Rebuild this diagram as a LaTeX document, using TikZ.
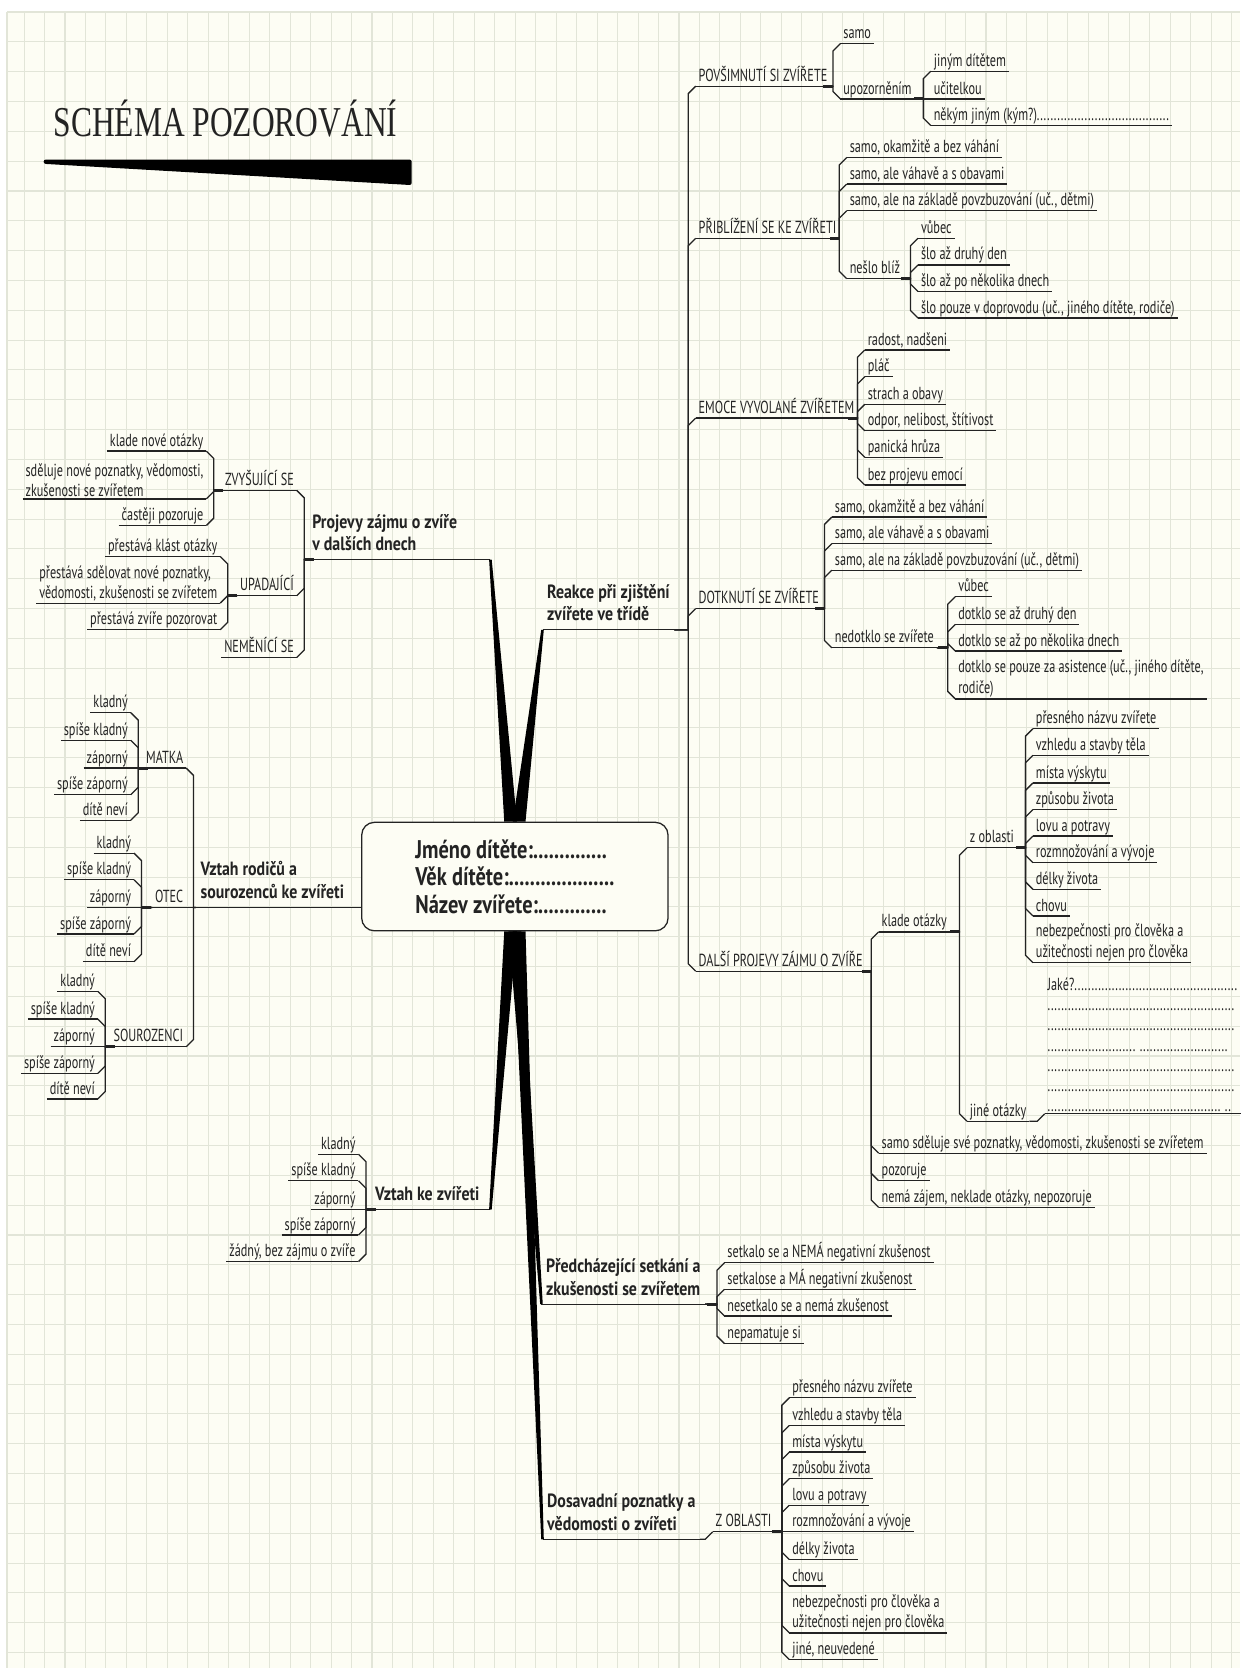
\documentclass[tikz,border=0pt]{standalone}
\usepackage{fontspec}
\setmainfont{PT Sans}
\newfontfamily\leaffamily[FakeStretch=0.70]{PT Sans}
\newfontfamily\headfamily[FakeStretch=0.83]{PT Sans}
\newfontfamily\hubfamily[FakeStretch=0.80]{PT Sans}
\newfontfamily\titlefamily[FakeStretch=0.74]{Liberation Serif}
\usetikzlibrary{calc}

\definecolor{paper}{RGB}{253,253,244}
\definecolor{gridline}{RGB}{226,229,216}
\definecolor{ink}{RGB}{35,35,35}

\newcommand{\lfont}{\leaffamily\fontsize{8.2pt}{9.5pt}\selectfont}
\newcommand{\hfont}{\headfamily\bfseries\fontsize{9pt}{10.5pt}\selectfont}
\newcommand{\cfont}{\hubfamily\bfseries\fontsize{12pt}{13pt}\selectfont}
\newcommand{\tfont}{\titlefamily\fontsize{20pt}{22pt}\selectfont}

\tikzset{
  uline/.style={draw=ink, line width=0.6pt},
  link/.style={draw=ink, line width=0.6pt},
  knot/.style={draw=ink, line width=1.4pt},
  wedge/.style={fill=black},
  leaf/.style={font=\lfont, text=ink, inner xsep=1.2pt, inner ysep=0.7pt, text depth=1.4pt,
    append after command={(\tikzlastnode.south west) edge[uline] (\tikzlastnode.south east)}},
  leafii/.style={font=\lfont, text=ink, align=left, inner xsep=1.2pt, inner ysep=0.7pt,
    append after command={(\tikzlastnode.south west) edge[uline] (\tikzlastnode.south east)}},
  rleaf/.style={leaf, anchor=south west},
  lleaf/.style={leaf, anchor=south east},
  rleafii/.style={leafii, anchor=south west},
  lleafii/.style={leafii, anchor=south east},
  branch/.style={font=\hfont, text=ink, align=flush left, inner xsep=2pt, inner ysep=4pt,
    append after command={(\tikzlastnode.south west) edge[uline] (\tikzlastnode.south east)}},
  hub/.style={draw=ink, line width=0.6pt, rounded corners=6pt, fill=paper, align=left,
    font=\cfont, text=ink, minimum width=144pt, minimum height=51pt},
}

% elbow from a parent on the right-hand side to one of its children
\newcommand{\linkR}[2]{%
  \draw[link] let \p1=(#1.south east), \p2=(#2.south west),
    \n1={abs(\y2-\y1)<0.5 ? 0 : sign(\y2-\y1)} in
    (\p1) -| ({\x2-3.5pt},{\y2-(\n1*3.5pt)}) -- (\p2);}
% the same on the left-hand side
\newcommand{\linkL}[2]{%
  \draw[link] let \p1=(#1.south west), \p2=(#2.south east),
    \n1={abs(\y2-\y1)<0.5 ? 0 : sign(\y2-\y1)} in
    (\p1) -| ({\x2+3.5pt},{\y2-(\n1*3.5pt)}) -- (\p2);}
% short heavy mark at a junction
\newcommand{\knotR}[2]{%
  \draw[knot] let \p1=(#1.south east), \p2=(#2.south west) in
    ({\x2-3.5pt},\y1) -- ({\x2-8pt},\y1);}
\newcommand{\knotL}[2]{%
  \draw[knot] let \p1=(#1.south west), \p2=(#2.south east) in
    ({\x2+3.5pt},\y1) -- ({\x2+8pt},\y1);}

\begin{document}
\begin{tikzpicture}[x=0.5pt, y=-0.5pt]
  \useasboundingbox (0,0) rectangle (1166,1568);

  % paper
  \fill[paper] (6.6,11.3) rectangle (1166,1568);
  \foreach \i in {0,...,59}
    \draw[gridline, line width=0.5pt] ({22.6+19.24*\i},11.3) -- ({22.6+19.24*\i},1568);
  \foreach \j in {0,...,55}
    \draw[gridline, line width=0.5pt] (6.6,{11.3+28.04*\j}) -- (1166,{11.3+28.04*\j});
  \draw[gridline, line width=0.5pt] (6.6,11.3) -- (6.6,1568);

  % title
  \node[font=\tfont, text=ink, anchor=base west, inner sep=0pt] (title) at (50,128) {SCHÉMA POZOROVÁNÍ};
  \fill[black, rounded corners=1pt] (41,150) -- (387,150) -- (387,174) -- (41,154) -- cycle;

  % centre
  \node[hub] (ctr) at (484,824) {Jméno dítěte:..............\\Věk dítěte:....................\\Název zvířete:.............};

  % main branches
  \node[branch, anchor=south west] (rea) at (510,592) {Reakce při zjištění\\zvířete ve třídě};
  \node[branch, anchor=south east, text width=81.5pt] (prj) at (461,526) {Projevy zájmu o zvíře\\v dalších dnech};
  \node[branch, anchor=south east, text width=72pt] (vr) at (337,853) {Vztah rodičů a\\sourozenců ke zvířeti};
  \node[branch, anchor=south east, text width=52pt] (vk) at (461,1137) {Vztah ke zvířeti};
  \node[branch, anchor=south west] (pre) at (509,1226) {Předcházející setkání a\\zkušenosti se zvířetem};
  \node[branch, anchor=south west] (dos) at (510,1447) {Dosavadní poznatky a\\vědomosti o zvířeti};

  \fill[wedge] ([xshift=-5pt]ctr.north) -- ([xshift=-0.6pt]prj.south east) -- ([xshift=0.6pt]prj.south east) -- ([xshift=1pt]ctr.north) -- cycle;
  \fill[wedge] ([xshift=-1pt]ctr.north) -- ([xshift=-0.6pt]rea.south west) -- ([xshift=0.6pt]rea.south west) -- ([xshift=5pt]ctr.north) -- cycle;
  \fill[wedge] ([xshift=-5pt]ctr.south) -- ([xshift=-0.6pt]vk.south east) -- ([xshift=0.6pt]vk.south east) -- ([xshift=1pt]ctr.south) -- cycle;
  \fill[wedge] ([xshift=-3pt]ctr.south) -- ([xshift=-0.6pt]pre.south west) -- ([xshift=0.6pt]pre.south west) -- ([xshift=3pt]ctr.south) -- cycle;
  \fill[wedge] ([xshift=-1pt]ctr.south) -- ([xshift=-0.6pt]dos.south west) -- ([xshift=0.6pt]dos.south west) -- ([xshift=5pt]ctr.south) -- cycle;
  \draw[link] (vr.south east) -- (vr.south east -| ctr.west);

  % Reakce -- povsimnuti
  \node[rleaf] (pov) at (654,81) {POVŠIMNUTÍ SI ZVÍŘETE};
  \node[rleaf] (povA) at (790,41) {samo};
  \node[rleaf] (povB) at (790,93) {upozorněním};
  \node[rleaf] (upoA) at (875,67) {jiným dítětem};
  \node[rleaf] (upoB) at (875,93) {učitelkou};
  \node[rleaf] (upoC) at (875,118) {někým jiným (kým?).......................................};

  % Reakce -- priblizeni
  \node[rleaf] (pri) at (654,224) {PŘIBLÍŽENÍ SE KE ZVÍŘETI};
  \node[rleaf] (priA) at (796,148) {samo, okamžitě a bez váhání};
  \node[rleaf] (priB) at (796,173) {samo, ale váhavě a s obavami};
  \node[rleaf] (priC) at (796,198) {samo, ale na základě povzbuzování (uč., dětmi)};
  \node[rleaf] (priD) at (796,262) {nešlo blíž};
  \node[rleaf] (nesA) at (863,224) {vůbec};
  \node[rleaf] (nesB) at (863,249) {šlo až druhý den};
  \node[rleaf] (nesC) at (863,274) {šlo až po několika dnech};
  \node[rleaf] (nesD) at (863,299) {šlo pouze v doprovodu (uč., jiného dítěte, rodiče)};

  % Reakce -- emoce
  \node[rleaf] (emo) at (654,393) {EMOCE VYVOLANÉ ZVÍŘETEM};
  \node[rleaf] (emoA) at (813,329) {radost, nadšeni};
  \node[rleaf] (emoB) at (813,354) {pláč};
  \node[rleaf] (emoC) at (813,380) {strach a obavy};
  \node[rleaf] (emoD) at (813,405) {odpor, nelibost, štítivost};
  \node[rleaf] (emoE) at (813,430) {panická hrůza};
  \node[rleaf] (emoF) at (813,456) {bez projevu emocí};

  % Reakce -- dotknuti
  \node[rleaf] (dot) at (654,572) {DOTKNUTÍ SE ZVÍŘETE};
  \node[rleaf] (dotA) at (782,486) {samo, okamžitě a bez váhání};
  \node[rleaf] (dotB) at (782,511) {samo, ale váhavě a s obavami};
  \node[rleaf] (dotC) at (782,536) {samo, ale na základě povzbuzování (uč., dětmi)};
  \node[rleaf] (dotD) at (782,609) {nedotklo se zvířete};
  \node[rleaf] (nedA) at (898,561) {vůbec};
  \node[rleaf] (nedB) at (898,587) {dotklo se až druhý den};
  \node[rleaf] (nedC) at (898,612) {dotklo se až po několika dnech};
  \node[rleafii] (nedD) at (898,657) {dotklo se pouze za asistence (uč., jiného dítěte,\\rodiče)};

  % Reakce -- dalsi projevy
  \node[rleaf] (dal) at (654,913) {DALŠÍ PROJEVY ZÁJMU O ZVÍŘE};
  \node[rleaf] (dalA) at (826,876) {klade otázky};
  \node[rleaf] (dalB) at (826,1084) {samo sděluje své poznatky, vědomosti, zkušenosti se zvířetem};
  \node[rleaf] (dalC) at (826,1110) {pozoruje};
  \node[rleaf] (dalD) at (826,1135) {nemá zájem, neklade otázky, nepozoruje};
  \node[rleaf] (klaA) at (909,797) {z oblasti};
  \node[rleaf] (klaB) at (909,1054) {jiné otázky};
  \node[rleaf] (oblA) at (971,685) {přesného názvu zvířete};
  \node[rleaf] (oblB) at (971,710) {vzhledu a stavby těla};
  \node[rleaf] (oblC) at (971,736) {místa výskytu};
  \node[rleaf] (oblD) at (971,761) {způsobu života};
  \node[rleaf] (oblE) at (971,786) {lovu a potravy};
  \node[rleaf] (oblF) at (971,811) {rozmnožování a vývoje};
  \node[rleaf] (oblG) at (971,836) {délky života};
  \node[rleaf] (oblH) at (971,861) {chovu};
  \node[rleafii] (oblI) at (971,905) {nebezpečnosti pro člověka a\\užitečnosti nejen pro člověka};
  \node[rleafii, align=flush left, text width=92pt] (jin) at (982,1047) {Jaké?................................................\\.......................................................\\.......................................................\\.......................... ..........................\\.......................................................\\.......................................................\\................................................... ..};

  % Projevy zajmu v dalsich dnech
  \node[lleaf] (zvy) at (279,461) {ZVYŠUJÍCÍ SE};
  \node[lleaf] (upa) at (279,560) {UPADAJÍCÍ};
  \node[lleaf] (nez) at (279,618) {NEMĚNÍCÍ SE};
  \node[lleaf] (zvyA) at (194,424) {klade nové otázky};
  \node[lleafii] (zvyB) at (194,469) {sděluje nové poznatky, vědomosti,\\zkušenosti se zvířetem};
  \node[lleaf] (zvyC) at (194,494) {častěji pozoruje};
  \node[lleaf] (upaA) at (207,523) {přestává klást otázky};
  \node[lleafii] (upaB) at (207,567) {přestává sdělovat nové poznatky,\\vědomosti, zkušenosti se zvířetem};
  \node[lleaf] (upaC) at (207,592) {přestává zvíře pozorovat};

  % Vztah rodicu a sourozencu
  \node[lleaf] (mat) at (175,722) {MATKA};
  \node[lleaf] (ote) at (175,853) {OTEC};
  \node[lleaf] (sou) at (175,984) {SOUROZENCI};
  \node[lleaf] (matA) at (123,670) {kladný};
  \node[lleaf] (matB) at (123,696) {spíše kladný};
  \node[lleaf] (matC) at (123,722) {záporný};
  \node[lleaf] (matD) at (123,747) {spíše záporný};
  \node[lleaf] (matE) at (123,771) {dítě neví};
  \node[lleaf] (oteA) at (126,802) {kladný};
  \node[lleaf] (oteB) at (126,827) {spíše kladný};
  \node[lleaf] (oteC) at (126,853) {záporný};
  \node[lleaf] (oteD) at (126,878) {spíše záporný};
  \node[lleaf] (oteE) at (126,904) {dítě neví};
  \node[lleaf] (souA) at (92,932) {kladný};
  \node[lleaf] (souB) at (92,958) {spíše kladný};
  \node[lleaf] (souC) at (92,984) {záporný};
  \node[lleaf] (souD) at (92,1009) {spíše záporný};
  \node[lleaf] (souE) at (92,1033) {dítě neví};

  % Vztah ke zvireti
  \node[lleaf] (vkA) at (337,1085) {kladný};
  \node[lleaf] (vkB) at (337,1110) {spíše kladný};
  \node[lleaf] (vkC) at (337,1137) {záporný};
  \node[lleaf] (vkD) at (337,1161) {spíše záporný};
  \node[lleaf] (vkE) at (337,1186) {žádný, bez zájmu o zvíře};

  % Predchazejici setkani
  \node[rleaf] (preA) at (681,1187) {setkalo se a NEMÁ negativní zkušenost};
  \node[rleaf] (preB) at (681,1212) {setkalose a MÁ negativní zkušenost};
  \node[rleaf] (preC) at (681,1237) {nesetkalo se a nemá zkušenost};
  \node[rleaf] (preD) at (681,1263) {nepamatuje si};

  % Dosavadni poznatky
  \node[rleaf] (zob) at (670,1440) {Z OBLASTI};
  \node[rleaf] (zobA) at (742,1314) {přesného názvu zvířete};
  \node[rleaf] (zobB) at (742,1340) {vzhledu a stavby těla};
  \node[rleaf] (zobC) at (742,1365) {místa výskytu};
  \node[rleaf] (zobD) at (742,1390) {způsobu života};
  \node[rleaf] (zobE) at (742,1415) {lovu a potravy};
  \node[rleaf] (zobF) at (742,1440) {rozmnožování a vývoje};
  \node[rleaf] (zobG) at (742,1466) {délky života};
  \node[rleaf] (zobH) at (742,1491) {chovu};
  \node[rleafii] (zobI) at (742,1535) {nebezpečnosti pro člověka a\\užitečnosti nejen pro člověka};
  \node[rleaf] (zobJ) at (742,1560) {jiné, neuvedené};

  % connectors
  \foreach \ch in {pov,pri,emo,dot,dal} {\linkR{rea}{\ch}}
  \foreach \ch in {povA,povB} {\linkR{pov}{\ch}}
  \foreach \ch in {upoA,upoB,upoC} {\linkR{povB}{\ch}}
  \foreach \ch in {priA,priB,priC,priD} {\linkR{pri}{\ch}}
  \foreach \ch in {nesA,nesB,nesC,nesD} {\linkR{priD}{\ch}}
  \foreach \ch in {emoA,emoB,emoC,emoD,emoE,emoF} {\linkR{emo}{\ch}}
  \foreach \ch in {dotA,dotB,dotC,dotD} {\linkR{dot}{\ch}}
  \foreach \ch in {nedA,nedB,nedC,nedD} {\linkR{dotD}{\ch}}
  \foreach \ch in {dalA,dalB,dalC,dalD} {\linkR{dal}{\ch}}
  \foreach \ch in {klaA,klaB} {\linkR{dalA}{\ch}}
  \foreach \ch in {oblA,oblB,oblC,oblD,oblE,oblF,oblG,oblH,oblI} {\linkR{klaA}{\ch}}
  \linkR{klaB}{jin}
  \foreach \ch in {preA,preB,preC,preD} {\linkR{pre}{\ch}}
  \linkR{dos}{zob}
  \foreach \ch in {zobA,zobB,zobC,zobD,zobE,zobF,zobG,zobH,zobI,zobJ} {\linkR{zob}{\ch}}
  \foreach \ch in {zvy,upa,nez} {\linkL{prj}{\ch}}
  \foreach \ch in {zvyA,zvyB,zvyC} {\linkL{zvy}{\ch}}
  \foreach \ch in {upaA,upaB,upaC} {\linkL{upa}{\ch}}
  \foreach \ch in {mat,ote,sou} {\linkL{vr}{\ch}}
  \foreach \ch in {matA,matB,matC,matD,matE} {\linkL{mat}{\ch}}
  \foreach \ch in {oteA,oteB,oteC,oteD,oteE} {\linkL{ote}{\ch}}
  \foreach \ch in {souA,souB,souC,souD,souE} {\linkL{sou}{\ch}}
  \foreach \ch in {vkA,vkB,vkC,vkD,vkE} {\linkL{vk}{\ch}}

  % junction marks
  \knotR{pov}{povA} \knotR{povB}{upoA} \knotR{pri}{priA} \knotR{priD}{nesA}
  \knotR{emo}{emoA} \knotR{dot}{dotA} \knotR{dotD}{nedA} \knotR{dal}{dalA}
  \knotR{dalA}{klaA} \knotR{klaA}{oblA} \knotR{pre}{preA} \knotR{zob}{zobA}
  \knotL{prj}{zvy} \knotL{zvy}{zvyA} \knotL{upa}{upaA} \knotL{mat}{matA}
  \knotL{ote}{oteA} \knotL{sou}{souA} \knotL{vk}{vkA}
\end{tikzpicture}
\end{document}
